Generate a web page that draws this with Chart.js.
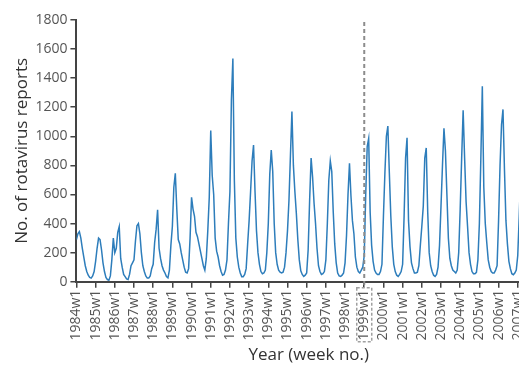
<!DOCTYPE html>
<html>
<head>
<meta charset="utf-8">
<script src="https://cdn.jsdelivr.net/npm/chart.js@4/dist/chart.umd.min.js"></script>
<style>
    html, body { margin: 0; padding: 0; background: #fff; overflow: hidden; }
    #wrap { width: 541px; height: 365px; }
</style>
</head>
<body>
<div id="wrap"><canvas id="chart"></canvas></div>
<script>
// ------------------- Data -------------------
// weekly rotavirus reports, every 4th week (w1, w5 ... w49)
const years = [1984, 1985, 1986, 1987, 1988, 1989, 1990, 1991, 1992, 1993, 1994, 1995,
    1996, 1997, 1998, 1999, 2000, 2001, 2002, 2003, 2004, 2005, 2006, 2007];
const sampleWeeks = [1, 5, 9, 13, 17, 21, 25, 29, 33, 37, 41, 45, 49];
const reports = [
    [290, 330, 345, 300, 230, 170, 110, 70, 45, 30, 25, 40, 70],        // 1984
    [140, 230, 300, 290, 220, 130, 70, 30, 15, 10, 40, 150, 300],       // 1985
    [200, 230, 340, 380, 160, 100, 50, 35, 20, 15, 50, 110, 130],       // 1986
    [150, 280, 385, 400, 330, 200, 110, 70, 40, 25, 25, 40, 90],        // 1987
    [120, 270, 360, 495, 230, 160, 110, 80, 60, 35, 27, 80, 250],       // 1988
    [380, 650, 745, 500, 290, 260, 200, 150, 100, 65, 60, 90, 300],     // 1989
    [580, 500, 450, 340, 310, 260, 210, 160, 110, 80, 160, 350, 580],   // 1990
    [1040, 730, 600, 300, 210, 170, 110, 70, 45, 50, 80, 150, 400],     // 1991
    [620, 1250, 1535, 700, 300, 170, 100, 60, 35, 35, 50, 90, 260],     // 1992
    [420, 620, 830, 940, 620, 350, 200, 120, 70, 55, 60, 80, 200],      // 1993
    [400, 740, 905, 760, 400, 200, 120, 80, 65, 60, 65, 100, 200],      // 1994
    [350, 560, 870, 1170, 800, 620, 470, 290, 150, 75, 50, 36, 45],     // 1995
    [60, 220, 560, 850, 720, 540, 400, 230, 110, 70, 50, 55, 70],       // 1996
    [150, 400, 700, 830, 757, 480, 260, 130, 60, 40, 36, 45, 60],       // 1997
    [130, 320, 600, 815, 590, 420, 330, 170, 100, 70, 60, 80, 100],     // 1998
    [180, 600, 930, 985, 480, 250, 140, 80, 60, 50, 50, 70, 120],       // 1999
    [450, 750, 1000, 1070, 750, 450, 240, 120, 70, 45, 36, 50, 70],     // 2000
    [120, 450, 850, 990, 420, 240, 130, 90, 60, 60, 65, 110, 250],      // 2001
    [380, 520, 850, 920, 480, 200, 110, 70, 45, 36, 50, 100, 250],      // 2002
    [520, 800, 1055, 900, 600, 300, 160, 110, 80, 70, 60, 80, 200],     // 2003
    [500, 850, 1180, 850, 550, 380, 200, 120, 70, 55, 55, 65, 150],     // 2004
    [400, 850, 1345, 650, 400, 270, 150, 100, 70, 60, 60, 80, 110],     // 2005
    [420, 800, 1080, 1185, 770, 420, 260, 140, 90, 55, 48, 60, 80],     // 2006
    [180, 450, 750]                                                     // 2007
];
const tickLabels = years.map(y => y + 'w1');
const yTicks = [0, 200, 400, 600, 800, 1000, 1200, 1400, 1600, 1800];
const changeoverYear = 1999;   // dashed marker

const WEEKS_PER_YEAR = 52;
const weekIndex = (year, week) => (year - years[0]) * WEEKS_PER_YEAR + (week - 1);

const points = [];
years.forEach((year, i) => {
    reports[i].forEach((value, k) => {
        points.push({ x: weekIndex(year, sampleWeeks[k]), y: value });
    });
});

// ------------------- Plugins -------------------
// dashed vertical line at 1999w1 plus dashed box round its tick label
const changeoverMarker = {
    id: 'changeoverMarker',
    afterDatasetsDraw(chart) {
        const { ctx, chartArea, scales } = chart;
        const x = scales.x.getPixelForValue(weekIndex(changeoverYear, 1));
        ctx.save();
        ctx.strokeStyle = '#8c8c8c';
        ctx.lineWidth = 2;
        ctx.setLineDash([4, 3]);
        ctx.beginPath();
        ctx.moveTo(x, chartArea.top + 2);
        ctx.lineTo(x, chartArea.bottom + 6);
        ctx.stroke();

        ctx.strokeStyle = '#a0a0a0';
        ctx.lineWidth = 1.5;
        ctx.setLineDash([3, 2]);
        ctx.strokeRect(x - 7.5, chartArea.bottom + 6, 15, 54);
        ctx.restore();
    }
};

// ------------------- Chart -------------------
const axisColor = '#444';
const font = 'Open Sans';

new Chart(document.getElementById('chart'), {
    type: 'line',
    data: {
        datasets: [{
            data: points,
            borderColor: '#2d7dbb',
            borderWidth: 1.5,
            pointRadius: 0,
            tension: 0,
            fill: false
        }]
    },
    options: {
        responsive: true,
        maintainAspectRatio: false,
        animation: false,
        layout: { padding: { top: 20, left: 3, right: 0, bottom: 0 } },
        plugins: {
            legend: { display: false },
            tooltip: { enabled: false }
        },
        scales: {
            x: {
                type: 'linear',
                min: 0,
                max: 1259,
                afterBuildTicks: axis => {
                    axis.ticks = years.map(y => ({ value: weekIndex(y, 1) }));
                },
                ticks: {
                    autoSkip: false,
                    maxRotation: 90,
                    minRotation: 90,
                    padding: 2,
                    color: '#555',
                    font: { family: font, size: 14 },
                    callback: (value, index) => tickLabels[index]
                },
                grid: {
                    drawOnChartArea: false,
                    drawTicks: true,
                    tickLength: 6,
                    color: axisColor,
                    lineWidth: 1.5
                },
                border: { display: true, color: axisColor, width: 2 },
                title: {
                    display: true,
                    text: 'Year (week no.)',
                    color: '#333',
                    font: { family: font, size: 17 },
                    padding: { top: 2, bottom: 0 }
                }
            },
            y: {
                min: 0,
                max: 1800,
                afterBuildTicks: axis => {
                    axis.ticks = yTicks.map(v => ({ value: v }));
                },
                ticks: {
                    padding: 3,
                    color: '#555',
                    font: { family: font, size: 14 },
                    callback: value => value
                },
                grid: {
                    drawOnChartArea: false,
                    drawTicks: true,
                    tickLength: 6,
                    color: axisColor,
                    lineWidth: 1.5
                },
                border: { display: true, color: axisColor, width: 2 },
                title: {
                    display: true,
                    text: 'No. of rotavirus reports',
                    color: '#333',
                    font: { family: font, size: 17 },
                    padding: { top: 9, bottom: 0 }
                }
            }
        }
    },
    plugins: [changeoverMarker]
});
</script>
</body>
</html>
